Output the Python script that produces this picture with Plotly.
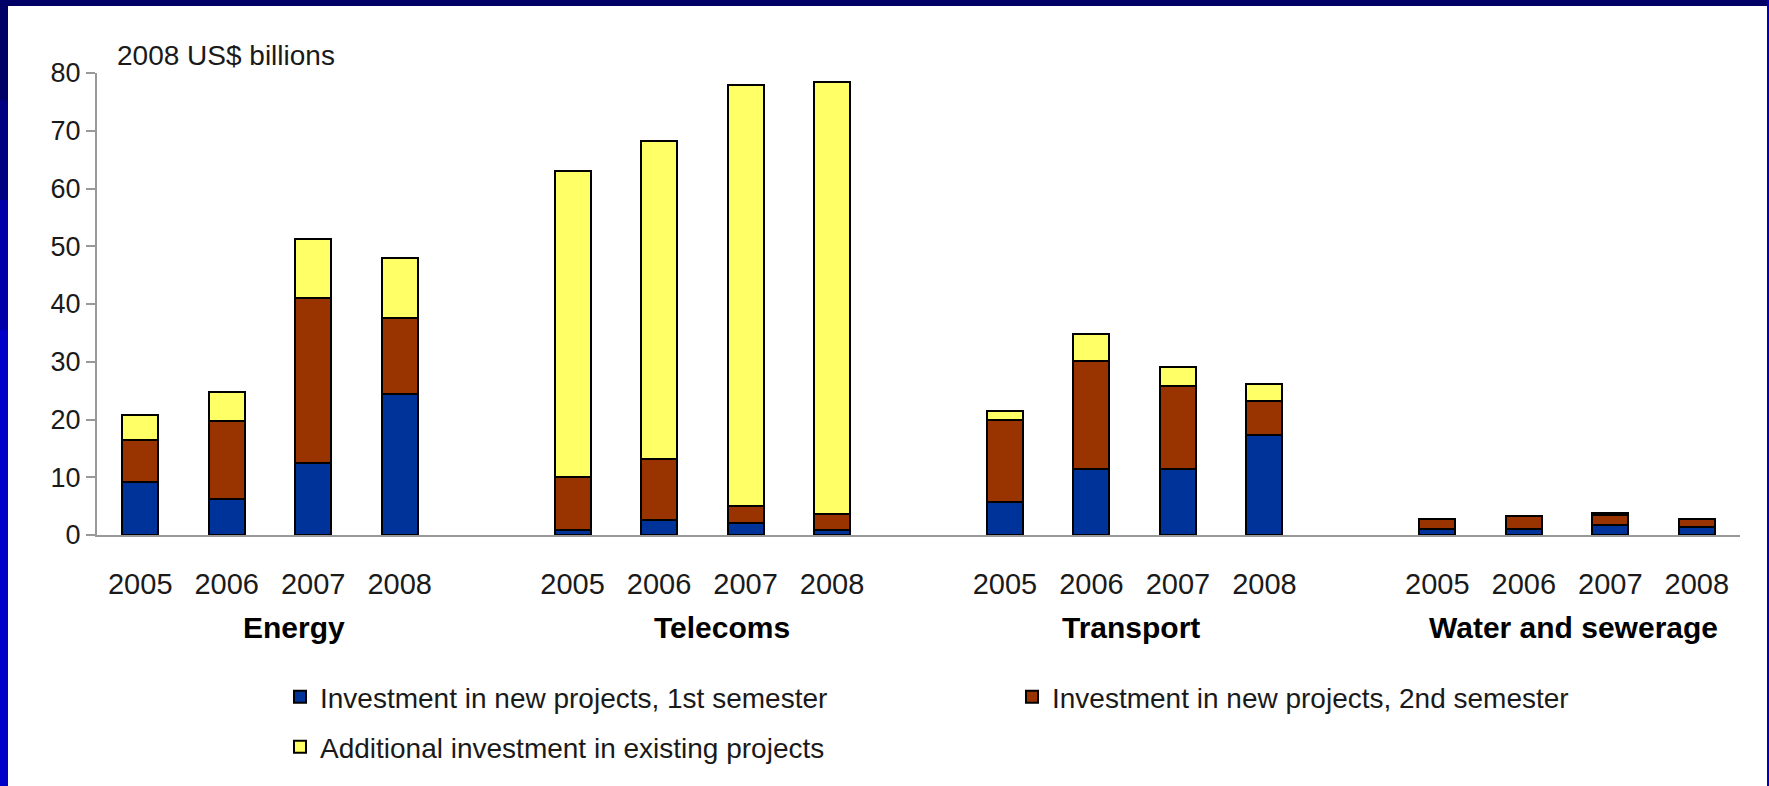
import plotly.graph_objects as go

groups = ["Energy", "Telecoms", "Transport", "Water and sewerage"]
years = ["2005", "2006", "2007", "2008"]

# values per group, in year order (2008 US$ billions)
new_1st = [9.2, 6.2, 12.5, 24.5,   0.9, 2.6, 2.0, 0.9,   5.8, 11.4, 11.4, 17.4,   1.0, 1.0, 1.7, 1.4]
new_2nd = [7.2, 13.5, 28.5, 13.1,  9.1, 10.5, 3.1, 2.7,  14.1, 18.8, 14.4, 5.8,   1.8, 2.3, 1.8, 1.4]
existing = [4.4, 5.0, 10.3, 10.3,  53.1, 55.2, 72.8, 74.8,  1.5, 4.6, 3.3, 2.9,  0.0, 0.0, 0.3, 0.0]

series_names = ["Investment in new projects, 1st semester",
                "Investment in new projects, 2nd semester",
                "Additional investment in existing projects"]
series_colors = ["#003399", "#993300", "#FFFF66"]
series_legend = ["legend", "legend", "legend2"]
label_shift = [24, 20, -4, 6]

cats = [f"{g} {y}" for g in groups for y in years]
cat_order = []
for gi, g in enumerate(groups):
    cat_order += [f"{g} {y}" for y in years]
    if gi < len(groups) - 1:
        cat_order.append(" " * (gi + 1))
tick_text = [y for g in groups for y in years]

fig = go.Figure()
for name, vals, col, lg in zip(series_names, [new_1st, new_2nd, existing], series_colors, series_legend):
    fig.add_trace(go.Bar(x=cats, y=vals, name=name, legend=lg,
                         marker=dict(color=col, line=dict(color="#000000", width=2))))

W, H = 1769, 786
ml, mr, mt, mb = 97, 29, 73, 251
pw, ph = W - ml - mr, H - mt - mb

legend_style = dict(orientation="h", xanchor="left", yanchor="middle",
                    entrywidthmode="pixels", entrywidth=687,
                    font=dict(size=28, color="#1a1a1a"), traceorder="normal",
                    bgcolor="rgba(0,0,0,0)", itemwidth=30)

fig.update_layout(
    width=W, height=H,
    barmode="stack", bargap=0.584,
    paper_bgcolor="white", plot_bgcolor="white",
    margin=dict(l=ml, r=mr, t=mt, b=mb, pad=0, autoexpand=False),
    font=dict(family="Liberation Sans, Arial, sans-serif", color="#1a1a1a"),
    showlegend=True,
    legend=dict(x=(280 - ml) / pw, y=(535 - 697) / ph, **legend_style),
    legend2=dict(x=(280 - ml) / pw, y=(535 - 747) / ph, **legend_style),
)
fig.update_xaxes(type="category", categoryorder="array", categoryarray=cat_order,
                 range=[-0.5, len(cat_order) - 0.5], automargin=False,
                 tickmode="array", tickvals=cats, ticktext=tick_text,
                 ticks="", showgrid=False, showline=True, linecolor="#999999", linewidth=2,
                 tickfont=dict(size=29, color="#1a1a1a"),
                 ticklabelstandoff=22)
fig.update_yaxes(range=[0, 80], dtick=10, tick0=0, showgrid=False, zeroline=False,
                 showline=True, linecolor="#999999", linewidth=2, automargin=False,
                 ticks="outside", ticklen=9, tickcolor="#999999", tickwidth=2,
                 tickfont=dict(size=27, color="#1a1a1a"))

for gi, g in enumerate(groups):
    fig.add_annotation(x=gi * 5 + 1.5, xref="x", y=(535 - 627) / ph, yref="paper",
                       text=f"<b>{g}</b>", showarrow=False, xshift=label_shift[gi],
                       font=dict(size=30, color="#000000"), xanchor="center", yanchor="middle")

fig.add_annotation(x=(115 - ml) / pw, xref="paper", y=(535 - 55) / ph, yref="paper",
                   text="2008 US$ billions", showarrow=False, xanchor="left", yanchor="middle",
                   font=dict(size=28, color="#1a1a1a"))

# slide frame
def px_rect(x0, y0, x1, y1, color):
    fig.add_shape(type="rect", xref="paper", yref="paper",
                  x0=(x0 - ml) / pw, x1=(x1 - ml) / pw,
                  y0=(H - mb - y0) / ph, y1=(H - mb - y1) / ph,
                  fillcolor=color, line=dict(width=0), layer="above")

px_rect(0, 0, 8, H, "#0000C8")
px_rect(0, 0, 8, 330, "#0000A8")
px_rect(0, 0, 8, 200, "#000080")
px_rect(0, 0, 8, 100, "#000066")
px_rect(0, 0, W, 6, "#000066")
px_rect(W - 2, 0, W, H, "#0000C0")

fig.write_html("out.html", config={"displayModeBar": False},
               post_script="document.body.style.margin='0';document.body.style.overflow='hidden';")
